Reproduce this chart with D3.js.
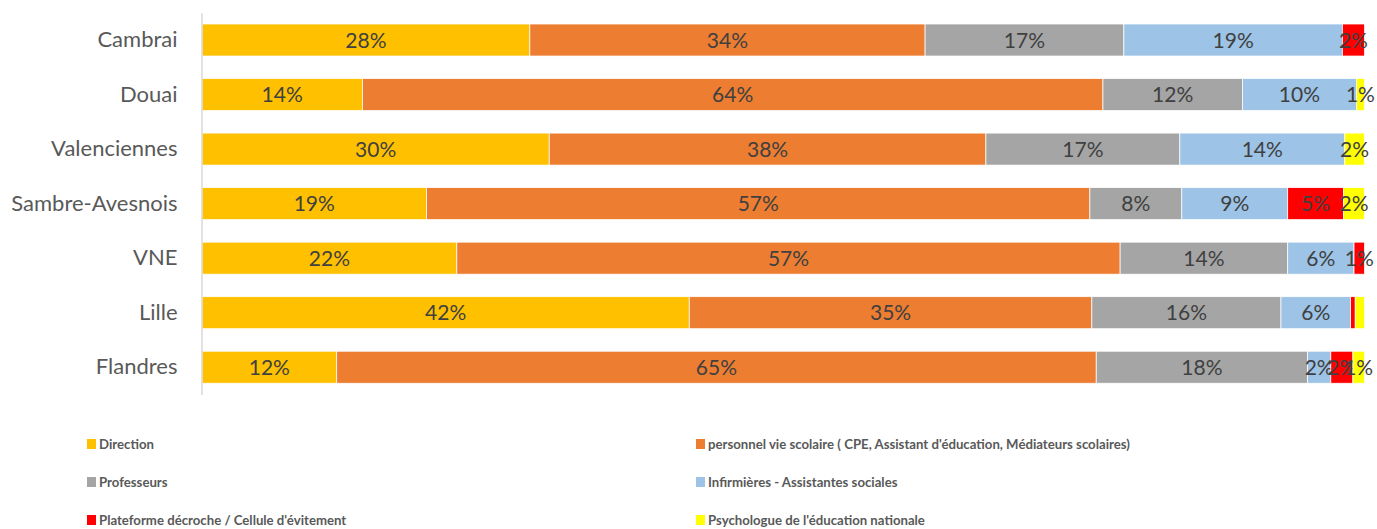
<!DOCTYPE html>
<html>
<head>
<meta charset="utf-8">
<script src="https://cdn.jsdelivr.net/npm/d3@7"></script>
<style>
  body { margin: 0; background: #fff; }
  svg { display: block; font-family: Lato, "Open Sans", sans-serif; }
</style>
</head>
<body>
<svg id="chart" width="1377" height="529"></svg>
<script>
// categories, top to bottom
const districts = ["Cambrai", "Douai", "Valenciennes", "Sambre-Avesnois", "VNE", "Lille", "Flandres"];

const seriesNames = [
    "Direction",
    "personnel vie scolaire ( CPE, Assistant d'éducation, Médiateurs scolaires)",
    "Professeurs",
    "Infirmières - Assistantes sociales",
    "Plateforme décroche / Cellule d'évitement",
    "Psychologue de l'éducation nationale"
];
const seriesColors = ["#FFC000", "#ED7D31", "#A5A5A5", "#9DC3E6", "#FF0000", "#FFFF00"];

// percentages per series, in district order
const direction   = [28.2, 13.8, 29.9, 19.3, 21.9, 42.0, 11.6];
const vieScolaire = [34.0, 63.7, 37.6, 57.0, 57.0, 34.7, 65.4];
const professeurs = [17.1, 12.0, 16.7,  7.9, 14.4, 16.3, 18.2];
const infirmieres = [18.8,  9.8, 14.2,  9.1,  5.7,  6.0,  2.0];
const plateforme  = [ 1.9,  0.0,  0.0,  4.8,  0.9,  0.4,  1.9];
const psychologue = [ 0.0,  0.7,  1.7,  1.8,  0.0,  0.8,  1.0];

// labels Excel left out (district|series index)
const hiddenLabels = ["Lille|4", "Lille|5"];

const allSeries = [direction, vieScolaire, professeurs, infirmieres, plateforme, psychologue];

const rows = districts.map((name, i) => {
    const row = { name };
    allSeries.forEach((s, k) => { row["s" + k] = s[i]; });
    return row;
});
const keys = allSeries.map((s, k) => "s" + k);

const svg = d3.select("#chart");
const margin = { left: 202, right: 12, top: 12.75, bottom: 134.5 };
const width = 1377, height = 529;

const x = d3.scaleLinear().domain([0, 1]).range([margin.left, width - margin.right - 0.5]);
const y = d3.scaleBand()
    .domain(districts)
    .range([margin.top, height - margin.bottom])
    .paddingInner(0.413)
    .paddingOuter(0.2065);

const stacked = d3.stack().keys(keys).offset(d3.stackOffsetExpand)(rows);

const layer = svg.append("g")
    .selectAll("g")
    .data(stacked)
    .join("g")
    .attr("fill", (d, k) => seriesColors[k]);

layer.selectAll("rect")
    .data(d => d.filter(p => p[1] - p[0] > 0))
    .join("rect")
    .attr("x", p => x(p[0]))
    .attr("y", p => y(p.data.name))
    .attr("width", p => x(p[1]) - x(p[0]))
    .attr("height", y.bandwidth())
    .attr("stroke", "#fff")
    .attr("stroke-width", 0.75);

// data labels
layer.each(function (s, k) {
    d3.select(this).selectAll("text")
        .data(s.filter(p => p[1] - p[0] > 0 && !hiddenLabels.includes(p.data.name + "|" + k)))
        .join("text")
        .attr("x", p => (x(p[0]) + x(p[1])) / 2)
        .attr("y", p => y(p.data.name) + y.bandwidth() / 2)
        .attr("dy", "0.36em")
        .attr("text-anchor", "middle")
        .attr("fill", "#404040")
        .attr("font-size", "21px")
        .text(p => Math.round(p.data["s" + k]) + "%");
});

// category axis
const yAxis = svg.append("g")
    .attr("transform", `translate(${margin.left - 0.5},0)`)
    .call(d3.axisLeft(y).tickSize(0).tickPadding(24));
yAxis.select(".domain").attr("stroke", "#D9D9D9").attr("stroke-width", 1.5);
yAxis.selectAll("text")
    .attr("font-size", "22px")
    .attr("fill", "#595959")
    .attr("font-family", "Lato, sans-serif");

// legend, two columns
const legendCols = [87, 696];
const legendRows = [444, 482, 520];
const legend = svg.append("g")
    .selectAll("g")
    .data(seriesNames)
    .join("g")
    .attr("transform", (d, i) => `translate(${legendCols[i % 2]},${legendRows[Math.floor(i / 2)]})`);

legend.append("rect")
    .attr("x", 0)
    .attr("y", -5)
    .attr("width", 9)
    .attr("height", 10)
    .attr("fill", (d, i) => seriesColors[i]);

legend.append("text")
    .attr("x", 12)
    .attr("dy", "0.35em")
    .attr("fill", "#595959")
    .attr("font-weight", "bold")
    .attr("font-size", "13.2px")
    .text(d => d);
</script>
</body>
</html>
